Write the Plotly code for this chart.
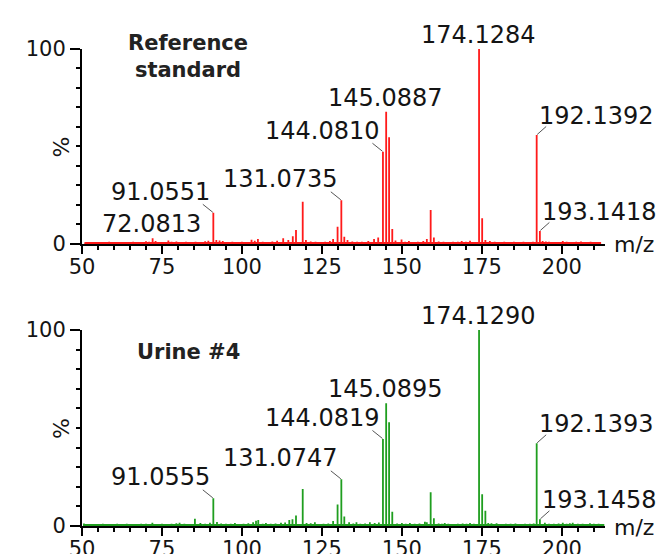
import plotly.graph_objects as go

# ---------------- data ----------------
# Reference standard (top panel)
ref_label_mz = [72.0813, 91.0551, 131.0735, 144.0810, 145.0887, 174.1284, 192.1392, 193.1418]
ref_label_int = [2.9, 16.0, 22.4, 47.3, 67.8, 100.0, 55.9, 6.7]
ref_label_side = ["center", "left", "left", "left", "center", "center", "right", "right"]

ref_other_mz = [115.9, 116.9, 119.0, 120.0, 128.5, 129.9, 132.0, 146.0, 147.0, 148.0,
                157.8, 159.0, 160.0, 175.1, 176.1, 177.5]
ref_other_int = [4.0, 7.2, 21.7, 2.0, 2.5, 8.9, 3.7, 54.7, 7.7, 1.8,
                 2.5, 17.4, 3.3, 13.2, 2.0, 1.5]

ref_noise_mz = [51.0, 52.5, 54.0, 55.5, 57.0, 58.5, 60.0, 61.5, 63.0, 64.5, 66.0, 67.5, 69.0, 70.0,
                71.0, 73.0, 74.0, 75.5, 77.0, 78.0, 79.5, 81.0, 82.5, 84.0, 85.5, 87.0, 88.5, 89.5,
                92.0, 93.0, 94.0, 95.5, 97.0, 98.5, 100.0, 101.5, 103.0, 104.0, 105.0, 106.5, 108.0,
                109.5, 111.0, 112.9, 114.5, 121.5, 123.0, 124.5, 126.0, 127.5, 133.0, 134.5, 136.0,
                137.5, 139.5, 141.3, 142.6, 149.9, 151.0, 152.2, 153.5, 155.0, 156.7, 161.5, 163.0,
                164.5, 166.0, 167.5, 168.7, 170.0, 171.3, 172.5, 179.0, 180.5, 182.0, 183.5, 185.0,
                186.5, 188.0, 189.5, 191.0, 194.0, 195.0, 196.0, 197.5, 199.0, 200.3, 201.5, 203.0,
                204.5, 206.0, 207.5, 209.0, 210.5, 212.0]
ref_noise_int = [0.9, 0.8, 1.0, 0.8, 0.9, 1.1, 0.8, 1.0, 0.9, 0.8, 1.1, 0.9, 1.0, 1.4,
                 1.1, 1.5, 1.0, 0.9, 1.8, 1.1, 1.3, 1.0, 1.1, 0.9, 1.2, 1.0, 1.4, 1.7,
                 2.0, 1.8, 1.5, 1.0, 1.1, 0.9, 1.2, 1.0, 2.2, 1.7, 2.5, 1.1, 1.0,
                 1.3, 1.7, 2.9, 2.0, 1.3, 1.1, 1.0, 1.2, 1.5, 2.0, 1.3, 1.2,
                 1.1, 1.5, 2.5, 3.3, 2.3, 1.1, 1.5, 1.0, 1.1, 1.5, 1.3, 1.1,
                 1.0, 1.2, 1.1, 1.5, 1.1, 1.7, 1.0, 1.1, 1.0, 1.2, 0.9, 1.1,
                 1.0, 1.1, 0.9, 1.2, 1.5, 1.3, 1.1, 1.0, 0.9, 1.5, 1.1, 1.0,
                 1.2, 1.3, 1.0, 1.1, 0.9, 1.0]

# Urine #4 (bottom panel)
uri_label_mz = [91.0555, 131.0747, 144.0819, 145.0895, 174.1290, 192.1393, 193.1458]
uri_label_int = [14.1, 23.8, 44.4, 62.6, 100.0, 42.2, 3.4]
uri_label_side = ["left", "left", "left", "center", "center", "right", "right"]

uri_other_mz = [85.3, 114.8, 115.8, 116.9, 119.0, 120.2, 128.5, 129.9, 132.0, 146.0, 147.0,
                157.8, 159.0, 160.0, 175.1, 176.1, 177.0]
uri_other_int = [3.7, 3.0, 3.5, 5.3, 18.9, 1.5, 2.5, 11.0, 4.8, 52.9, 7.3,
                 1.9, 17.2, 3.9, 16.2, 7.8, 1.5]

uri_noise_mz = [50.6, 52.0, 53.5, 55.0, 56.5, 58.0, 59.5, 61.0, 62.5, 64.0, 65.5, 67.0, 68.5, 70.0,
                72.0, 73.5, 75.0, 76.5, 78.0, 79.5, 80.5, 82.0, 83.5, 87.0, 88.5, 90.0, 92.2, 93.5,
                95.0, 96.5, 97.8, 99.0, 100.5, 102.0, 103.5, 104.4, 105.1, 106.5, 107.5, 109.0,
                110.5, 112.2, 113.5, 121.5, 122.8, 124.0, 125.5, 127.0, 133.5, 134.8, 135.8, 137.0,
                138.5, 140.0, 141.5, 142.8, 148.5, 150.0, 151.2, 152.5, 154.0, 155.5, 157.2, 161.5,
                162.5, 163.4, 164.5, 166.0, 167.5, 169.0, 170.2, 171.3, 172.5, 178.0, 179.6, 181.0,
                182.5, 184.0, 185.5, 187.0, 188.5, 190.0, 191.2, 194.7, 196.0, 197.5, 199.0, 200.3,
                201.5, 202.5, 203.4, 205.0, 206.5, 208.0, 208.8, 210.0, 211.5, 213.0]
uri_noise_int = [1.3, 0.9, 1.0, 0.9, 1.1, 1.0, 0.9, 1.1, 1.0, 1.2, 0.9, 1.0, 1.1, 1.2,
                 1.6, 1.0, 1.1, 0.9, 1.2, 1.4, 1.6, 1.2, 1.0, 1.5, 1.1, 1.6, 2.0, 1.3,
                 1.1, 1.2, 1.5, 1.0, 1.2, 1.4, 1.9, 2.7, 3.0, 1.1, 1.5, 1.2,
                 1.3, 1.6, 1.8, 1.4, 1.9, 1.0, 1.1, 1.3, 1.9, 1.3, 1.9, 1.2,
                 1.3, 1.9, 1.5, 1.8, 1.3, 1.5, 1.2, 1.5, 1.1, 1.3, 2.2, 1.3,
                 1.1, 1.5, 1.2, 1.0, 1.2, 1.3, 1.1, 1.5, 1.1, 1.4, 1.4, 1.0,
                 1.2, 1.1, 1.3, 1.0, 1.2, 1.1, 1.3, 1.7, 1.2, 1.1, 1.3, 1.7,
                 1.2, 1.4, 1.7, 1.1, 1.2, 1.0, 1.4, 1.2, 1.1, 1.0]

baseline_level = 0.5

x_tick_vals = [50, 75, 100, 125, 150, 175, 200]
x_minor_vals = list(range(50, 215, 5))
y_tick_vals = [0, 100]
y_tick_text = ["0", "100"]
y_minor_vals = list(range(10, 100, 10))
x_range = [50, 213.5]

panel_titles = ["Reference<br>standard", "Urine #4"]

# ---------------- helpers ----------------
def stick_path(mz_lists, int_lists, base):
    pts = []
    for mzs, ints in zip(mz_lists, int_lists):
        pts.extend(zip(mzs, ints))
    pts.sort()
    xs, ys = [], []
    for m, h in pts:
        xs += [m, m, m]
        ys += [base, h, base]
    return xs, ys

FONT = "DejaVu Sans"
TXT = "#141414"

fig = go.Figure()

panels = [
    dict(lab_mz=ref_label_mz, lab_int=ref_label_int, side=ref_label_side,
         o_mz=ref_other_mz, o_int=ref_other_int, n_mz=ref_noise_mz, n_int=ref_noise_int,
         color="#ff1a1a", xa="x", ya="y", ydom=[0.56777, 0.92491], title_y=0.964),
    dict(lab_mz=uri_label_mz, lab_int=uri_label_int, side=uri_label_side,
         o_mz=uri_other_mz, o_int=uri_other_int, n_mz=uri_noise_mz, n_int=uri_noise_int,
         color="#1f9e1f", xa="x2", ya="y2", ydom=[0.05128, 0.41026], title_y=0.888),
]

annotations = []
shapes = []
for i, p in enumerate(panels):
    xs, ys = stick_path([p["lab_mz"], p["o_mz"], p["n_mz"]],
                        [p["lab_int"], p["o_int"], p["n_int"]], baseline_level)
    fig.add_trace(go.Scatter(x=xs, y=ys, mode="lines", xaxis=p["xa"], yaxis=p["ya"],
                             line=dict(color=p["color"], width=1.8), hoverinfo="skip",
                             showlegend=False))
    xref, yref = p["xa"], p["ya"]
    for m, h, s in zip(p["lab_mz"], p["lab_int"], p["side"]):
        txt = f"{m:.4f}"
        if s == "center":
            annotations.append(dict(x=m, y=h, xref=xref, yref=yref, text=txt, showarrow=False,
                                    xanchor="center", yanchor="middle", xshift=-1, yshift=14,
                                    font=dict(family=FONT, size=24, color=TXT)))
        elif s == "left":
            annotations.append(dict(x=m, y=h, xref=xref, yref=yref, text=txt, showarrow=False,
                                    xanchor="right", yanchor="middle", xshift=-1, yshift=21,
                                    font=dict(family=FONT, size=24, color=TXT)))
            shapes.append(dict(type="line", xref=xref, yref=yref, xsizemode="pixel",
                               ysizemode="pixel", xanchor=m, yanchor=h,
                               x0=-10.5, y0=8.5, x1=-0.5, y1=0.5,
                               line=dict(color="#555555", width=1)))
        else:
            annotations.append(dict(x=m, y=h, xref=xref, yref=yref, text=txt, showarrow=False,
                                    xanchor="left", yanchor="middle", xshift=0, yshift=19,
                                    font=dict(family=FONT, size=24, color=TXT)))
            shapes.append(dict(type="line", xref=xref, yref=yref, xsizemode="pixel",
                               ysizemode="pixel", xanchor=m, yanchor=h,
                               x0=0.5, y0=0.5, x1=9.5, y1=8.5,
                               line=dict(color="#555555", width=1)))
    # panel title
    annotations.append(dict(x=0.2027, y=p["title_y"], xref=f"{xref} domain", yref=f"{yref} domain",
                            text=f"<b>{panel_titles[i]}</b>", showarrow=False,
                            xanchor="center", yanchor="middle",
                            font=dict(family=FONT, size=21, color="#222222")))
    # m/z label
    annotations.append(dict(x=1, y=0, xref=f"{xref} domain", yref=f"{yref} domain",
                            text="m/z", showarrow=False, xanchor="left", yanchor="middle",
                            xshift=7, yshift=-1, font=dict(family=FONT, size=22, color=TXT)))
    # % label
    annotations.append(dict(x=0, y=50, xref=f"{xref} domain", yref=yref,
                            text="%", showarrow=False, textangle=-90,
                            xanchor="center", yanchor="middle", xshift=-20,
                            font=dict(family=FONT, size=22, color=TXT)))

xaxis_common = dict(range=x_range, domain=[0.11263, 0.90868], showline=True, linecolor="black",
                    linewidth=2, ticks="outside", tickvals=x_tick_vals, ticklen=8, tickwidth=2,
                    tickcolor="black", showgrid=False, zeroline=False, automargin=False,
                    ticklabelstandoff=-5,
                    tickfont=dict(family=FONT, size=21, color=TXT),
                    minor=dict(tickvals=x_minor_vals, ticks="outside", ticklen=4, tickwidth=1.5,
                               tickcolor="black", showgrid=False))
yaxis_common = dict(range=[0, 100], showline=True, linecolor="black", linewidth=2,
                    ticks="outside", tickvals=y_tick_vals, ticktext=y_tick_text, ticklen=10,
                    tickwidth=2, tickcolor="black", showgrid=False, zeroline=False,
                    automargin=False,
                    tickfont=dict(family=FONT, size=21, color=TXT),
                    minor=dict(tickvals=y_minor_vals, ticks="outside", ticklen=4, tickwidth=1.5,
                               tickcolor="black", showgrid=False))

fig.update_layout(
    width=657, height=546,
    margin=dict(l=0, r=0, t=0, b=0, pad=0, autoexpand=False),
    paper_bgcolor="white", plot_bgcolor="white",
    xaxis=dict(**xaxis_common, anchor="y"),
    yaxis=dict(**yaxis_common, domain=panels[0]["ydom"], anchor="x"),
    xaxis2=dict(**xaxis_common, anchor="y2"),
    yaxis2=dict(**yaxis_common, domain=panels[1]["ydom"], anchor="x2"),
    annotations=annotations,
    shapes=shapes,
    showlegend=False,
)

fig.write_html("out.html")
